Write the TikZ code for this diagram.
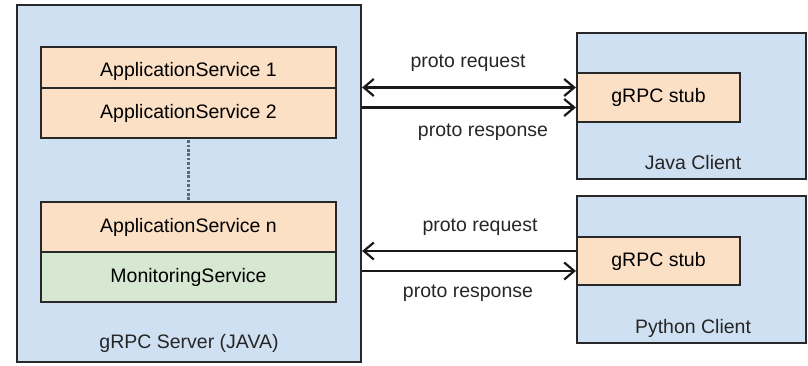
\documentclass[tikz,border=0pt]{standalone}
\usepackage{fontspec}
\setmainfont{Liberation Sans}
\usetikzlibrary{arrows.meta,positioning,calc}

\definecolor{boxblue}{RGB}{206,224,242}
\definecolor{boxorange}{RGB}{251,224,198}
\definecolor{boxgreen}{RGB}{214,232,210}
\definecolor{edgegray}{RGB}{40,40,40}
\definecolor{dotgray}{RGB}{90,105,120}

\tikzset{
  container/.style={draw=edgegray, line width=2.2pt, fill=boxblue, rectangle, inner sep=0pt},
  svcbox/.style={draw=edgegray, line width=2.2pt, fill=boxorange, rectangle, inner sep=0pt,
                 font=\fontsize{19.5}{23}\selectfont},
  monbox/.style={svcbox, fill=boxgreen},
  lbl/.style={font=\fontsize{19.5}{23}\selectfont, text=black!85, inner sep=0pt},
  barb/.tip={Straight Barb[length=10pt,width=17pt,line width=2.2pt]},
  flow/.style={draw=black!90, line width=2.2pt, -barb},
  flowboth/.style={draw=black!90, line width=2.2pt, barb-barb},
}

\begin{document}
\begin{tikzpicture}[x=1pt, y=-1pt]
  \useasboundingbox (0,0) rectangle (808,366);

  % server container
  \node[container, minimum width=344pt, minimum height=357pt] (server) at (189,183.5) {};
  \node[lbl] (srvlbl) at (189,343) {gRPC Server (JAVA)};

  % service stack inside the server
  \node[svcbox, minimum width=295pt, minimum height=41pt, text height=22pt, text depth=4pt]
    (as1) at (188.5,67.5) {ApplicationService 1};
  \node[svcbox, minimum width=295pt, minimum height=50pt] (as2) at (188.5,113) {ApplicationService 2};
  \node[svcbox, minimum width=295pt, minimum height=50pt] (asn) at (188.5,227) {ApplicationService n};
  \node[monbox, minimum width=295pt, minimum height=50pt] (mon) at (188.5,277) {MonitoringService};
  \draw[dotgray, line width=2.6pt, dash pattern=on 2.6pt off 1.8pt] ([yshift=-1.1pt]as2.south) -- ([yshift=1.1pt]asn.north);

  % java client
  \node[container, minimum width=229pt, minimum height=146pt] (java) at (691.5,106) {};
  \node[svcbox, minimum width=163pt, minimum height=49pt] (stub1) at (658.5,97.5) {gRPC stub};
  \node[lbl] (javalbl) at (693,163) {Java Client};

  % python client
  \node[container, minimum width=229pt, minimum height=147pt] (python) at (691.5,269.5) {};
  \node[svcbox, minimum width=163pt, minimum height=48pt] (stub2) at (658.5,261) {gRPC stub};
  \node[lbl] (pylbl) at (693,328) {Python Client};

  % java client connectors
  \coordinate (j1) at ([yshift=10pt]stub1.west);
  \coordinate (j2) at ([yshift=-10pt]stub1.west);
  \draw[flowboth] (server.east |- j1) -- (j1);
  \draw[flow] (server.east |- j2) -- (j2);
  \node[lbl] (req1) at (468,63) {proto request};
  \node[lbl] (res1) at (483,132) {proto response};

  % python client connectors
  \coordinate (p1) at ([yshift=10pt]stub2.west);
  \coordinate (p2) at ([yshift=-10pt]stub2.west);
  \draw[flow] (p1) -- (server.east |- p1);
  \draw[flow] (server.east |- p2) -- (p2);
  \node[lbl] (req2) at (480,227) {proto request};
  \node[lbl] (res2) at (468,293) {proto response};
\end{tikzpicture}
\end{document}
